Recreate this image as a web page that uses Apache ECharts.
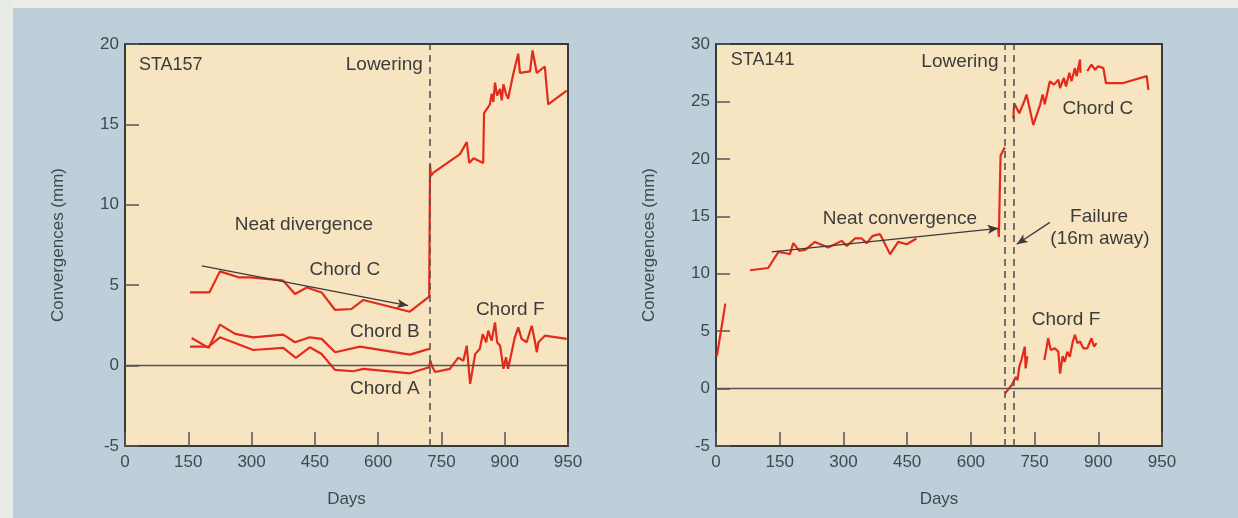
<!DOCTYPE html>
<html>
<head>
<meta charset="utf-8">
<title>Convergences STA157 / STA141</title>
<script src="https://cdn.jsdelivr.net/npm/echarts@6/dist/echarts.min.js"></script>
<style>
  html, body { margin: 0; padding: 0; background: #bdd0d9; }
  #main { width: 1238px; height: 518px; }
</style>
</head>
<body>
<div id="main"></div>
<script>
// x axis: the drawing spaces its last label "950" a full step after 900,
// so the scale runs 0..1050 and the last tick just reads "950"
const xTickValues = [0, 150, 300, 450, 600, 750, 900, 1050];
const xTickLabels = ['0', '150', '300', '450', '600', '750', '900', '950'];

// ---- STA157 (left) ----
const sta157ChordC = [[154,4.55],[200,4.55],[225,5.86],[269,5.49],[296,5.49],[367,5.32],[375,5.28],[403,4.45],[431,4.86],[466,4.55],[498,3.46],[537,3.52],[565,4.08],[675,3.35],[721,4.29],[723,12.5],[725,11.8],[731,12.0],[794,13.15],[810,13.9],[816,12.6],[826,12.9],[849,12.6],[851,15.7],[865,16.25],[869,16.9],[873,16.4],[877,17.6],[882,16.8],[889,17.2],[893,16.5],[897,17.5],[903,16.9],[908,16.6],[920,18.1],[932,19.4],[936,18.2],[960,18.3],[966,19.6],[976,18.2],[995,18.6],[1003,16.25],[1047,17.1]];
const sta157ChordB = [[158,1.72],[198,1.1],[225,2.55],[261,1.97],[304,1.76],[375,1.93],[403,1.45],[438,1.76],[466,1.66],[498,0.83],[557,1.18],[675,0.68],[721,1.04]];
const sta157ChordA = [[154,1.18],[198,1.18],[225,1.76],[304,0.97],[375,1.1],[405,0.48],[438,1.14],[466,0.72],[498,-0.27],[541,-0.35],[565,-0.2],[675,-0.48],[721,-0.1]];
const sta157ChordF = [[721,-0.1],[724,0.3],[727,0.0],[735,-0.4],[770,-0.2],[790,0.5],[802,0.3],[810,1.24],[818,-1.14],[830,0.72],[841,1.04],[848,1.96],[856,1.45],[861,2.17],[869,1.55],[877,2.69],[882,1.45],[889,1.24],[897,-0.2],[903,0.52],[908,-0.2],[924,1.76],[932,2.38],[940,1.66],[952,1.45],[964,2.48],[972,1.45],[976,0.83],[980,1.45],[995,1.86],[1047,1.66]];
const sta157Trend = [[182,6.2],[671,3.73]];
const sta157Lowering = 723;

// ---- STA141 (right) ----
const sta141Early = [[2,2.8],[22,7.4]];
const sta141Main = [[80,10.3],[123,10.5],[147,11.9],[162,11.8],[174,11.7],[182,12.66],[196,12.0],[210,12.07],[233,12.77],[264,12.28],[296,12.86],[308,12.42],[327,13.07],[343,13.07],[355,12.66],[369,13.3],[386,13.45],[410,11.7],[429,12.77],[449,12.57],[472,13.07]];
const sta141Jump = [[664,14.0],[666,13.2],[668,17.0],[670,20.3],[680,21.0]];
const sta141ChordC = [[700,23.5],[702,24.85],[714,23.97],[727,25.14],[731,25.6],[747,22.95],[763,24.7],[769,25.6],[774,24.76],[786,26.75],[796,26.46],[806,26.9],[810,26.17],[819,27.04],[824,26.3],[832,27.5],[837,26.75],[845,27.9],[849,27.2],[857,28.65],[858,27.5],[866,'-'],[874,27.63],[884,28.2],[892,27.77],[900,28.07],[912,27.9],[918,26.6],[959,26.6],[1014,27.2],[1018,26.0]];
const sta141ChordF = [[680,-0.44],[696,0.29],[700,0.14],[706,1.0],[710,0.73],[714,1.9],[719,2.48],[723,2.33],[727,3.65],[729,1.75],[733,2.83],[750,'-'],[773,2.48],[778,3.5],[782,4.38],[788,3.36],[798,3.5],[806,3.2],[810,1.3],[816,2.83],[821,2.33],[827,3.2],[833,2.77],[840,4.1],[845,4.67],[851,3.95],[857,4.1],[865,3.5],[874,3.5],[884,4.38],[890,3.65],[896,3.95]];
const sta141Trend = [[131,11.9],[665,13.95]];
const sta141FailureArrow = [[786,14.47],[708,12.57]];
const sta141Lowering = 680;
const sta141Failure = 700;

// text notes: [grid, day, value, text, align, size]
const notes = [
  [0, 33, 18.7, 'STA157', 'left', 18],
  [0, 706, 18.7, 'Lowering', 'right', 19],
  [0, 424, 8.77, 'Neat divergence', 'center', 19],
  [0, 521, 5.97, 'Chord C', 'center', 19],
  [0, 616, 2.12, 'Chord B', 'center', 19],
  [0, 616, -1.43, 'Chord A', 'center', 19],
  [0, 913, 3.48, 'Chord F', 'center', 19],
  [1, 35, 28.6, 'STA141', 'left', 18],
  [1, 665, 28.45, 'Lowering', 'right', 19],
  [1, 433, 14.8, 'Neat convergence', 'center', 19],
  [1, 902, 14.94, 'Failure', 'center', 19],
  [1, 904, 13.0, '(16m away)', 'center', 19],
  [1, 899, 24.4, 'Chord C', 'center', 19],
  [1, 824, 6.0, 'Chord F', 'center', 19]
];

const FONT = '"Liberation Sans", Arial, sans-serif';
const RED = '#e42a1b';
const INK = '#3c3c3c';

const chart = echarts.init(document.getElementById('main'));

function xAxisFor(idx) {
  return {
    gridIndex: idx, type: 'value', min: 0, max: 1050, interval: 150,
    name: 'Days', nameLocation: 'middle', nameGap: 45,
    nameTextStyle: { fontFamily: FONT, fontSize: 17, color: '#3b4a52' },
    axisLine: { show: true, onZero: false, lineStyle: { color: '#3a3a3a', width: 2 } },
    axisTick: { show: true, inside: true, length: 14, lineStyle: { color: '#555', width: 1.5 } },
    axisLabel: {
      fontFamily: FONT, fontSize: 17, color: '#3b4a52', margin: 8,
      formatter: v => xTickLabels[xTickValues.indexOf(v)]
    },
    splitLine: { show: false }
  };
}
function yAxisFor(idx, min, max) {
  return {
    gridIndex: idx, type: 'value', min: min, max: max, interval: 5,
    name: 'Convergences (mm)', nameLocation: 'middle', nameGap: 58, nameRotate: 90,
    nameTextStyle: { fontFamily: FONT, fontSize: 17, color: '#3b4a52' },
    axisLine: { show: true, onZero: false, lineStyle: { color: '#3a3a3a', width: 2 } },
    axisTick: { show: true, inside: true, length: 14, lineStyle: { color: '#555', width: 1.5 } },
    axisLabel: { fontFamily: FONT, fontSize: 17, color: '#3b4a52', margin: 6 },
    splitLine: { show: false }
  };
}
function redLine(idx, data) {
  return {
    type: 'line', xAxisIndex: idx, yAxisIndex: idx, data: data,
    showSymbol: false, connectNulls: false, silent: true,
    lineStyle: { color: RED, width: 2.2 }
  };
}
function guides(idx, vlines, arrows) {
  const data = [{ yAxis: 0, lineStyle: { type: 'solid', color: '#555', width: 1.3 } }];
  vlines.forEach(x => data.push({ xAxis: x, lineStyle: { type: [7, 5], color: '#555', width: 1.6 } }));
  arrows.forEach(a => data.push([
    { coord: a[0], symbol: 'none' },
    { coord: a[1], symbol: 'arrow', symbolSize: [7, 11], lineStyle: { type: 'solid', color: '#3a3a3a', width: 1.3 } }
  ]));
  return {
    type: 'line', xAxisIndex: idx, yAxisIndex: idx, data: [], silent: true,
    markLine: {
      silent: true, animation: false, symbol: ['none', 'none'],
      label: { show: false }, emphasis: { disabled: true },
      data: data
    }
  };
}

chart.setOption({
  animation: false,
  backgroundColor: '#bdd0d9',
  grid: [
    { left: 125, top: 44, width: 443, height: 402, show: true, backgroundColor: '#f7e5c1', borderColor: '#3a3a3a', borderWidth: 2 },
    { left: 716, top: 44, width: 446, height: 402, show: true, backgroundColor: '#f7e5c1', borderColor: '#3a3a3a', borderWidth: 2 }
  ],
  xAxis: [xAxisFor(0), xAxisFor(1)],
  yAxis: [yAxisFor(0, -5, 20), yAxisFor(1, -5, 30)],
  series: [
    guides(0, [sta157Lowering], [sta157Trend]),
    guides(1, [sta141Lowering, sta141Failure], [sta141Trend, sta141FailureArrow]),
    redLine(0, sta157ChordC),
    redLine(0, sta157ChordB),
    redLine(0, sta157ChordA),
    redLine(0, sta157ChordF),
    redLine(1, sta141Early),
    redLine(1, sta141Main),
    redLine(1, sta141Jump),
    redLine(1, sta141ChordC),
    redLine(1, sta141ChordF)
  ]
});

// place the notes through the grids' own scales
const graphics = [
  { type: 'rect', z: -10, silent: true, shape: { x: 0, y: 0, width: 1238, height: 8 }, style: { fill: '#eeede6' } },
  { type: 'rect', z: -10, silent: true, shape: { x: 0, y: 0, width: 13, height: 518 }, style: { fill: '#e9ebe6' } }
];
notes.forEach(n => {
  const p = chart.convertToPixel({ gridIndex: n[0] }, [n[1], n[2]]);
  graphics.push({
    type: 'text', x: p[0], y: p[1], silent: true, z: 50,
    style: { text: n[3], font: n[5] + 'px ' + FONT, fill: INK, align: n[4], verticalAlign: 'middle' }
  });
});
chart.setOption({ graphic: graphics });
</script>
</body>
</html>
